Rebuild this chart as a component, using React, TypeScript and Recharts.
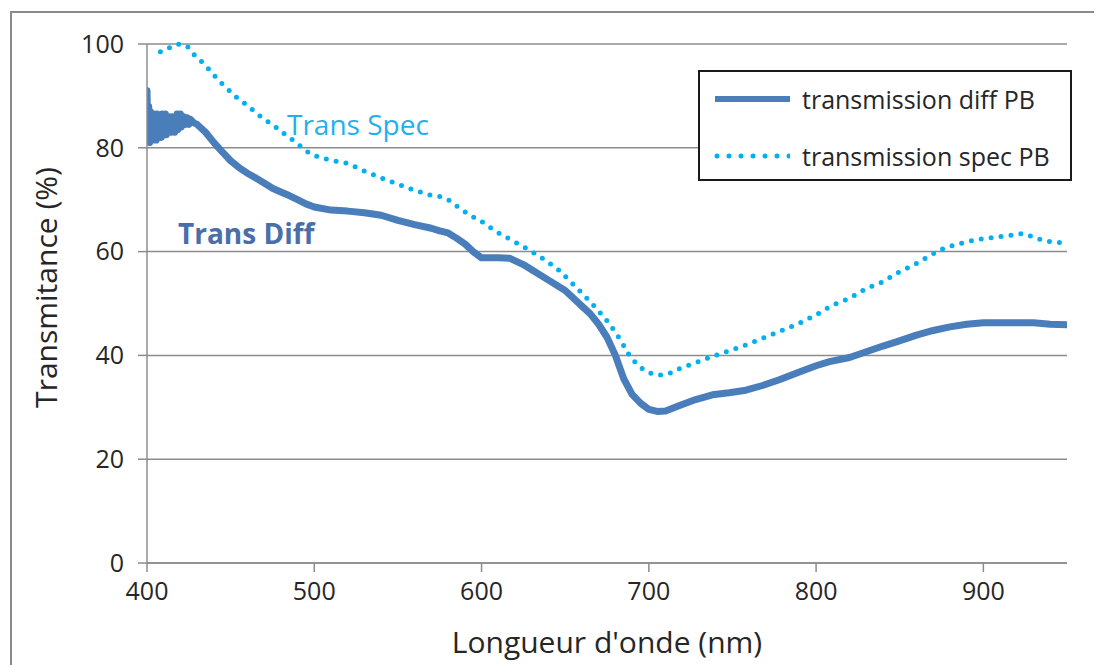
import React from 'react'
import { LineChart, Line, XAxis, YAxis, CartesianGrid } from 'recharts'

// transmission diff PB (nm / %)
const diffNm = [
  400, 400.5, 401, 401.5, 402, 402.5, 403, 403.5, 404, 404.5, 405, 405.5, 406, 406.5, 407, 407.5,
  408, 408.5, 409, 409.5, 410, 410.5, 411, 411.5, 412, 412.5, 413, 413.5, 414, 414.5, 415, 415.5,
  416, 416.5, 417, 417.5, 418, 418.5, 419, 419.5, 420, 420.5, 421, 421.5, 422, 423, 424, 425, 426, 428, 430,
  435, 440, 445, 450, 455, 460, 465, 470, 475, 480, 485, 490, 495,
  500, 510, 520, 530, 540, 550, 560, 570, 575, 580, 585, 590, 595, 600, 610, 617, 625, 630, 640, 650,
  660, 665, 670, 675, 680, 685, 690, 695, 700, 705, 710, 718, 728, 738, 748, 758, 768, 778, 790, 800,
  808, 820, 830, 840, 848, 860, 870, 880, 890, 900, 910, 920, 930, 940, 950,
]
const diffValues = [
  91, 81.5, 88, 81, 87, 81.5, 86.5, 81.5, 86.5, 82, 86, 81.5, 86.5, 82, 86, 82.5,
  86, 82, 86.5, 82.5, 86, 83, 86.5, 82.5, 86, 83, 86, 83, 85.5, 83, 86, 83.5,
  85.5, 83, 86, 83.5, 86.5, 83.5, 86, 84, 86.5, 84, 86, 84.5, 86, 84.5, 85.8, 84.5, 85.5, 84.8, 84.5,
  83, 81, 79.2, 77.5, 76.2, 75.1, 74.2, 73.2, 72.2, 71.5, 70.8, 70, 69.2,
  68.6, 68, 67.8, 67.5, 67, 66, 65.2, 64.5, 64, 63.6, 62.6, 61.5, 60, 58.8, 58.8, 58.7, 57.5, 56.5, 54.5, 52.5,
  49.5, 48, 46, 43.5, 40, 35.5, 32.5, 30.8, 29.6, 29.2, 29.3, 30.3, 31.5, 32.4, 32.8, 33.3, 34.2, 35.3, 36.8, 38,
  38.8, 39.6, 40.7, 41.8, 42.6, 43.9, 44.8, 45.5, 46, 46.3, 46.3, 46.3, 46.3, 46, 45.9,
]

// transmission spec PB (nm / %)
const specNm = [
  408, 412, 416, 420, 424, 428, 432, 436, 440, 445, 450, 455, 460, 465, 470, 475, 480, 485, 490, 495,
  500, 505, 510, 515, 520, 530, 540, 550, 560, 570, 575, 580, 585, 593, 600, 609, 618, 627, 636, 645,
  652, 660, 668, 676, 683, 688, 693, 698, 703, 708, 713, 718, 728, 738, 748, 758, 768, 778, 790, 800,
  810, 820, 830, 840, 848, 860, 868, 874, 880, 890, 900, 910, 918, 924, 930, 937, 944, 950,
]
const specValues = [
  98.5, 99, 99.8, 100, 99.6, 98, 96.8, 95.5, 94, 92.3, 90.8, 89.3, 88.2, 86.8, 85.5, 84.5, 83.2, 82, 80.8, 79.4,
  78.5, 78, 77.6, 77.3, 77, 75.5, 74.2, 73, 71.8, 70.8, 70.6, 70, 68.8, 67, 65.8, 63.8, 62.2, 60.6, 58.8, 56.8,
  54.6, 52, 49.3, 46.3, 43, 40.2, 38.2, 37, 36.3, 36.2, 36.6, 37.4, 38.6, 39.8, 40.9, 42, 43.3, 44.6, 46.2, 47.8,
  49.7, 51, 52.9, 54.2, 55.8, 57.7, 59.2, 60.3, 61, 61.9, 62.5, 62.9, 63.2, 63.5, 62.8, 62, 61.8, 61.7,
]

const xTicks = [400, 500, 600, 700, 800, 900]
const yTicks = [0, 20, 40, 60, 80, 100]

const diffData = diffNm.map((nm, i) => ({ nm, value: diffValues[i] }))
const specData = specNm.map((nm, i) => ({ nm, value: specValues[i] }))

const FONT = '"Open Sans", sans-serif'
const DIFF_COLOR = '#4A7EBB'
const SPEC_COLOR = '#00B0F0'
const GRID = '#8C8C8C'

const YTitle = ({ viewBox }: any) => {
  const cx = 37
  const cy = viewBox.y + viewBox.height / 2 - 16
  return (
    <text
      x={cx}
      y={cy}
      transform={`rotate(-90, ${cx}, ${cy})`}
      textAnchor="middle"
      dominantBaseline="central"
      fontFamily={FONT}
      fontSize={30}
      fill="#262626"
    >
      Transmitance (%)
    </text>
  )
}

const XTitle = ({ viewBox }: any) => (
  <text
    x={viewBox.x + viewBox.width / 2}
    y={645}
    textAnchor="middle"
    fontFamily={FONT}
    fontSize={30}
    fill="#262626"
  >
    Longueur d'onde (nm)
  </text>
)

export default function App() {
  return (
    <div style={{ position: 'relative', width: 1094, height: 657, overflow: 'hidden', background: '#fff' }}>
      <div
        style={{
          position: 'absolute',
          left: 2,
          top: 3,
          width: 1200,
          height: 800,
          border: '2px solid #8a8a8a',
        }}
      />
      <LineChart
        width={1094}
        height={657}
        margin={{ top: 36, right: 35, bottom: 0, left: 0 }}
        style={{ position: 'absolute', left: 0, top: 0 }}
      >
        <CartesianGrid horizontal vertical={false} stroke={GRID} strokeWidth={1.5} />
        <XAxis
          type="number"
          dataKey="nm"
          domain={[400, 950]}
          ticks={xTicks}
          allowDataOverflow
          height={102}
          stroke={GRID}
          strokeWidth={1.5}
          tickSize={9}
          tickMargin={10}
          tick={{ fill: '#262626', fontSize: 25, fontFamily: FONT }}
          label={<XTitle />}
        />
        <YAxis
          type="number"
          domain={[0, 100]}
          ticks={yTicks}
          width={139}
          stroke={GRID}
          strokeWidth={1.5}
          tickSize={9}
          tickMargin={14}
          tick={{ fill: '#262626', fontSize: 25, fontFamily: FONT }}
          label={<YTitle />}
        />
        <Line
          data={diffData}
          dataKey="value"
          type="linear"
          stroke={DIFF_COLOR}
          strokeWidth={7}
          strokeLinejoin="round"
          strokeLinecap="round"
          dot={false}
          activeDot={false}
          isAnimationActive={false}
        />
        <Line
          data={specData}
          dataKey="value"
          type="linear"
          stroke={SPEC_COLOR}
          strokeWidth={5}
          strokeDasharray="0 10"
          strokeLinecap="round"
          dot={false}
          activeDot={false}
          isAnimationActive={false}
        />
      </LineChart>

      {/* in-plot annotations */}
      <div
        style={{
          position: 'absolute',
          left: 279,
          top: 102,
          fontFamily: FONT,
          fontSize: 28,
          lineHeight: '28px',
          color: '#1FB1EC',
          whiteSpace: 'nowrap',
        }}
      >
        Trans Spec
      </div>
      <div
        style={{
          position: 'absolute',
          left: 170,
          top: 211,
          fontFamily: FONT,
          fontSize: 28,
          lineHeight: '28px',
          fontWeight: 700,
          color: '#4A6EA8',
          whiteSpace: 'nowrap',
        }}
      >
        Trans Diff
      </div>

      {/* legend */}
      <div
        style={{
          position: 'absolute',
          left: 690,
          top: 62,
          width: 370,
          height: 107,
          border: '2px solid #1a1a1a',
          background: '#fff',
          fontFamily: FONT,
          fontSize: 25,
          color: '#262626',
        }}
      >
        <svg width={90} height={107} style={{ position: 'absolute', left: 0, top: 0 }}>
          <line x1={15} y1={27} x2={95} y2={27} stroke={DIFF_COLOR} strokeWidth={6} />
          <line
            x1={17}
            y1={84}
            x2={90}
            y2={84}
            stroke={SPEC_COLOR}
            strokeWidth={5}
            strokeDasharray="0 12"
            strokeLinecap="round"
          />
        </svg>
        <div style={{ position: 'absolute', left: 102, top: 27, transform: 'translateY(-50%)', whiteSpace: 'nowrap' }}>
          transmission diff PB
        </div>
        <div style={{ position: 'absolute', left: 102, top: 84, transform: 'translateY(-50%)', whiteSpace: 'nowrap' }}>
          transmission spec PB
        </div>
      </div>
    </div>
  )
}
